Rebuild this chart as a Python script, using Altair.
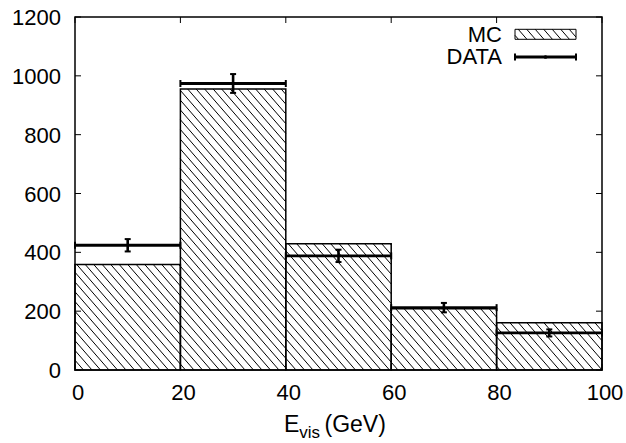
import math
import altair as alt
import pandas as pd

# ---- data ----
bin_lo = [0, 20, 40, 60, 80]
bin_hi = [20, 40, 60, 80, 100]
mc_counts = [359, 955, 429, 208, 161]
data_counts = [424, 974, 388, 212, 126]
data_errors = [21, 32, 21, 16, 12]
x_ticks = [0, 20, 40, 60, 80, 100]
y_ticks = [0, 200, 400, 600, 800, 1000, 1200]

# ---- layout / style ----
W, H = 527, 353
X_DOM = [0, 100]
Y_DOM = [0, 1200]
FONT = "Liberation Sans"
FS = 23
TFS = 22        # tick label font size
H_SP = 8.5      # horizontal spacing of hatch lines (px)
SLOPE = 1.15    # hatch slope (down per right, px/px)
V_SP = H_SP * SLOPE

kx = W / (X_DOM[1] - X_DOM[0])
ky = H / (Y_DOM[1] - Y_DOM[0])


def hatch(u0, u1, w0, w1):
    segs = []
    kmin = math.floor((w0 + SLOPE * u0) / V_SP) - 1
    kmax = math.ceil((w1 + SLOPE * u1) / V_SP) + 1
    for k in range(kmin, kmax + 1):
        c = k * V_SP
        ua = max(u0, (c - w1) / SLOPE)
        ub = min(u1, (c - w0) / SLOPE)
        if ub - ua > 0.2:
            segs.append((ua, c - SLOPE * ua, ub, c - SLOPE * ub))
    return segs


bins_df = pd.DataFrame({"lo": bin_lo, "hi": bin_hi, "mc": mc_counts, "base": [0] * len(bin_lo)})

hatch_rows = []
for lo, hi, v in zip(bin_lo, bin_hi, mc_counts):
    for ua, wa, ub, wb in hatch(lo * kx, hi * kx, 0, v * ky):
        hatch_rows.append({"hx": ua / kx, "hy": wa / ky, "hx2": ub / kx, "hy2": wb / ky})

# legend patch (pixel box inside the plot, converted to data units)
LX0, LX1 = 440, 501
PY0, PY1 = 12.3, 22.3
for ua, wa, ub, wb in hatch(LX0, LX1, H - PY1, H - PY0):
    hatch_rows.append({"hx": ua / kx, "hy": wa / ky, "hx2": ub / kx, "hy2": wb / ky})
hatch_df = pd.DataFrame(hatch_rows)

pts_df = pd.DataFrame({
    "lo": bin_lo, "hi": bin_hi,
    "c": [(a + b) / 2 for a, b in zip(bin_lo, bin_hi)],
    "val": data_counts,
    "elo": [v - e for v, e in zip(data_counts, data_errors)],
    "ehi": [v + e for v, e in zip(data_counts, data_errors)],
})

xt_df = pd.DataFrame({"v": x_ticks, "lab": [str(v) for v in x_ticks]})
yt_df = pd.DataFrame({"v": y_ticks, "lab": [str(v) for v in y_ticks]})

sx = alt.Scale(domain=X_DOM, nice=False, zero=False)
sy = alt.Scale(domain=Y_DOM, nice=False, zero=False)

# MC bar outlines
bars = alt.Chart(bins_df).mark_rect(fillOpacity=0, stroke="black", strokeWidth=1.5).encode(
    x=alt.X("lo:Q", scale=sx, axis=None),
    x2="hi:Q",
    y=alt.Y("mc:Q", scale=sy, axis=None),
    y2="base:Q",
)

# hatch lines inside MC bars and the legend patch
hatch_layer = alt.Chart(hatch_df).mark_rule(color="black", strokeWidth=1).encode(
    x=alt.X("hx:Q", scale=sx, axis=None),
    x2="hx2:Q",
    y=alt.Y("hy:Q", scale=sy, axis=None),
    y2="hy2:Q",
)

# DATA: horizontal bin-width bar, end caps, vertical error bars and caps
hbar = alt.Chart(pts_df).mark_rule(color="black", strokeWidth=2.8).encode(
    x=alt.X("lo:Q", scale=sx, axis=None), x2="hi:Q",
    y=alt.Y("val:Q", scale=sy, axis=None))
hcap_l = alt.Chart(pts_df).mark_tick(orient="vertical", size=7, thickness=2, color="black", opacity=1).encode(
    x=alt.X("lo:Q", scale=sx, axis=None), y=alt.Y("val:Q", scale=sy, axis=None))
hcap_r = alt.Chart(pts_df).mark_tick(orient="vertical", size=7, thickness=2, color="black", opacity=1).encode(
    x=alt.X("hi:Q", scale=sx, axis=None), y=alt.Y("val:Q", scale=sy, axis=None))
vbar = alt.Chart(pts_df).mark_rule(color="black", strokeWidth=2.6).encode(
    x=alt.X("c:Q", scale=sx, axis=None),
    y=alt.Y("elo:Q", scale=sy, axis=None), y2="ehi:Q")
vcap_lo = alt.Chart(pts_df).mark_tick(orient="horizontal", size=6, thickness=2, color="black", opacity=1).encode(
    x=alt.X("c:Q", scale=sx, axis=None), y=alt.Y("elo:Q", scale=sy, axis=None))
vcap_hi = alt.Chart(pts_df).mark_tick(orient="horizontal", size=6, thickness=2, color="black", opacity=1).encode(
    x=alt.X("c:Q", scale=sx, axis=None), y=alt.Y("ehi:Q", scale=sy, axis=None))

# inward (mirrored) ticks
TL = 6
xt_bottom = alt.Chart(xt_df).mark_rule(color="black", strokeWidth=1).encode(
    x=alt.X("v:Q", scale=sx, axis=None), y=alt.value(H), y2=alt.value(H - TL))
xt_top = alt.Chart(xt_df).mark_rule(color="black", strokeWidth=1).encode(
    x=alt.X("v:Q", scale=sx, axis=None), y=alt.value(0), y2=alt.value(TL))
yt_left = alt.Chart(yt_df).mark_rule(color="black", strokeWidth=1).encode(
    y=alt.Y("v:Q", scale=sy, axis=None), x=alt.value(0), x2=alt.value(TL))
yt_right = alt.Chart(yt_df).mark_rule(color="black", strokeWidth=1).encode(
    y=alt.Y("v:Q", scale=sy, axis=None), x=alt.value(W), x2=alt.value(W - TL))

# tick labels (placed through the scales)
xlab = alt.Chart(xt_df).mark_text(
    align="center", baseline="alphabetic", font=FONT, fontSize=TFS, color="black", dx=3
).encode(x=alt.X("v:Q", scale=sx, axis=None), y=alt.value(H + 30), text="lab:N")
ylab = alt.Chart(yt_df).mark_text(
    align="right", baseline="alphabetic", font=FONT, fontSize=TFS, color="black", dy=8
).encode(y=alt.Y("v:Q", scale=sy, axis=None), x=alt.value(-14), text="lab:N")


def label(txt, x, y, size=FS, align="left"):
    return alt.Chart(pd.DataFrame({"t": [txt]})).mark_text(
        align=align, baseline="alphabetic", font=FONT, fontSize=size, color="black"
    ).encode(text="t:N", x=alt.value(x), y=alt.value(y))


# x axis title: E_vis (GeV)
t_e = label("E", 209, 414.7)
t_vis = label("vis", 224.3, 421, size=17)
t_gev = label("(GeV)", 249.5, 414.7)

# legend
leg_mc = label("MC", 427, 24.7, size=22, align="right")
leg_data = label("DATA", 427, 47.3, size=22, align="right")
one = pd.DataFrame({"t": [0]})
patch = alt.Chart(one).mark_rect(
    fillOpacity=0, stroke="black", strokeWidth=1).encode(
    x=alt.value(LX0), x2=alt.value(LX1), y=alt.value(PY0), y2=alt.value(PY1))
LY = 40
leg_line = alt.Chart(one).mark_rule(color="black", strokeWidth=2.8).encode(
    x=alt.value(LX0), x2=alt.value(LX1), y=alt.value(LY))
leg_cap_l = alt.Chart(one).mark_rule(color="black", strokeWidth=2).encode(
    x=alt.value(LX0), y=alt.value(LY - 3.5), y2=alt.value(LY + 3.5))
leg_cap_r = alt.Chart(one).mark_rule(color="black", strokeWidth=2).encode(
    x=alt.value(LX1), y=alt.value(LY - 3.5), y2=alt.value(LY + 3.5))
leg_dot = alt.Chart(one).mark_point(filled=True, size=14, color="black", opacity=1).encode(
    x=alt.value((LX0 + LX1) / 2), y=alt.value(LY))

chart = alt.layer(
    bars, hatch_layer,
    xt_bottom, xt_top, yt_left, yt_right,
    xlab, ylab,
    hbar, hcap_l, hcap_r, vbar, vcap_lo, vcap_hi,
    t_e, t_vis, t_gev,
    patch, leg_line, leg_cap_l, leg_cap_r, leg_dot, leg_mc, leg_data,
).properties(
    width=W, height=H,
    autosize=alt.AutoSizeParams(type="none"),
    padding={"left": 75, "top": 17, "right": 24, "bottom": 73},
    background="white",
).configure_view(stroke="black", strokeWidth=1.5)

chart.save("out.html", embed_options={"renderer": "svg", "actions": False})
